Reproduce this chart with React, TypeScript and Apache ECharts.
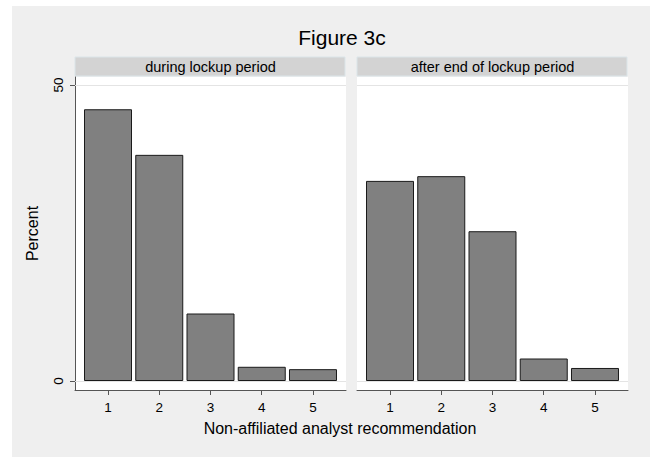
import React, { useEffect, useRef } from "react";
import * as echarts from "echarts";

const categories = [1, 2, 3, 4, 5];
const duringLockup = [45.9, 38.2, 11.4, 2.4, 2.0];
const afterLockup = [33.8, 34.6, 25.3, 3.8, 2.2];
const yTicks = [0, 50];
const panelTitles = ["during lockup period", "after end of lockup period"];
const chartTitle = "Figure 3c";
const xTitle = "Non-affiliated analyst recommendation";
const yTitle = "Percent";

const FONT = "'Liberation Sans', Arial, Helvetica, sans-serif";
const AXIS_COLOR = "#555555";

export default function App() {
  const ref = useRef<HTMLDivElement>(null);

  useEffect(() => {
    if (!ref.current) return;
    const chart = echarts.init(ref.current, undefined, { renderer: "svg" });

    const panels = [
      { left: 75, values: duringLockup },
      { left: 357, values: afterLockup },
    ];
    const PW = 271;
    const PTOP = 77;
    const PH = 313;

    const xAxisBase = (i: number) => ({
      type: "value",
      gridIndex: i,
      min: 0.356,
      max: 5.644,
      axisLine: { show: true, onZero: false, lineStyle: { color: AXIS_COLOR, width: 1 } },
      axisTick: { show: true, length: 5, customValues: categories, lineStyle: { color: AXIS_COLOR } },
      axisLabel: {
        customValues: categories,
        fontSize: 13.5,
        color: "#000",
        margin: 10,
        fontFamily: FONT,
      },
      splitLine: { show: false },
    });

    const option: any = {
      animation: false,
      backgroundColor: "transparent",
      textStyle: { fontFamily: FONT },
      grid: panels.map((p) => ({
        left: p.left,
        top: PTOP,
        width: PW,
        height: PH,
        show: true,
        backgroundColor: "#ffffff",
        borderWidth: 0,
        containLabel: false,
      })),
      xAxis: [xAxisBase(0), xAxisBase(1)],
      yAxis: [
        {
          type: "value",
          gridIndex: 0,
          min: -1.52,
          max: 51.35,
          axisLine: { show: true, onZero: false, lineStyle: { color: AXIS_COLOR, width: 1 } },
          axisTick: { show: true, length: 5, customValues: yTicks, lineStyle: { color: AXIS_COLOR } },
          axisLabel: {
            customValues: yTicks,
            rotate: 90,
            fontSize: 13.5,
            color: "#000",
            margin: 10,
            fontFamily: FONT,
          },
          splitLine: { show: false },
          name: yTitle,
          nameLocation: "middle",
          nameGap: 35,
          nameTextStyle: { fontSize: 16, color: "#000", fontFamily: FONT },
        },
        {
          type: "value",
          gridIndex: 1,
          min: -1.52,
          max: 51.35,
          axisLine: { show: false },
          axisTick: { show: false },
          axisLabel: { show: false },
          splitLine: { show: false },
        },
      ],
      series: panels.flatMap((p, i) => [
        {
          type: "line",
          xAxisIndex: i,
          yAxisIndex: i,
          data: [],
          z: 1,
          silent: true,
          markLine: {
            silent: true,
            symbol: "none",
            label: { show: false },
            lineStyle: { color: "#e4e4e4", width: 1, type: "solid" },
            data: yTicks.map((v) => ({ yAxis: v })),
          },
        },
        {
          type: "bar",
          xAxisIndex: i,
          yAxisIndex: i,
          z: 2,
          barWidth: 48,
          data: categories.map((c, k) => [c, p.values[k]]),
          itemStyle: { color: "#808080", borderColor: "#1a1a1a", borderWidth: 1 },
        },
      ]),
      graphic: [
        ...panels.flatMap((p, i) => [
          {
            type: "rect",
            shape: { x: p.left, y: 57, width: PW - 1, height: 19 },
            style: { fill: "#d3d3d3", stroke: "#dbe5e9", lineWidth: 1 },
          },
          {
            type: "text",
            x: p.left + PW / 2,
            y: 67,
            style: {
              text: panelTitles[i],
              fontSize: 14.5,
              fill: "#000",
              fontFamily: FONT,
              textAlign: "center",
              textVerticalAlign: "middle",
            },
          },
        ]),
        {
          type: "text",
          x: 342,
          y: 37,
          style: {
            text: chartTitle,
            fontSize: 21,
            fill: "#000",
            fontFamily: FONT,
            textAlign: "center",
            textVerticalAlign: "middle",
          },
        },
        {
          type: "text",
          x: 340,
          y: 428,
          style: {
            text: xTitle,
            fontSize: 16,
            fill: "#000",
            fontFamily: FONT,
            textAlign: "center",
            textVerticalAlign: "middle",
          },
        },
      ],
    };

    chart.setOption(option);
    return () => chart.dispose();
  }, []);

  return (
    <div style={{ position: "fixed", left: 0, top: 0, width: 656, height: 470, background: "#ffffff" }}>
      <div style={{ position: "absolute", left: 12, top: 6, width: 638, height: 451, background: "#efefef" }} />
      <div ref={ref} style={{ position: "absolute", left: 0, top: 0, width: 656, height: 470 }} />
    </div>
  );
}
